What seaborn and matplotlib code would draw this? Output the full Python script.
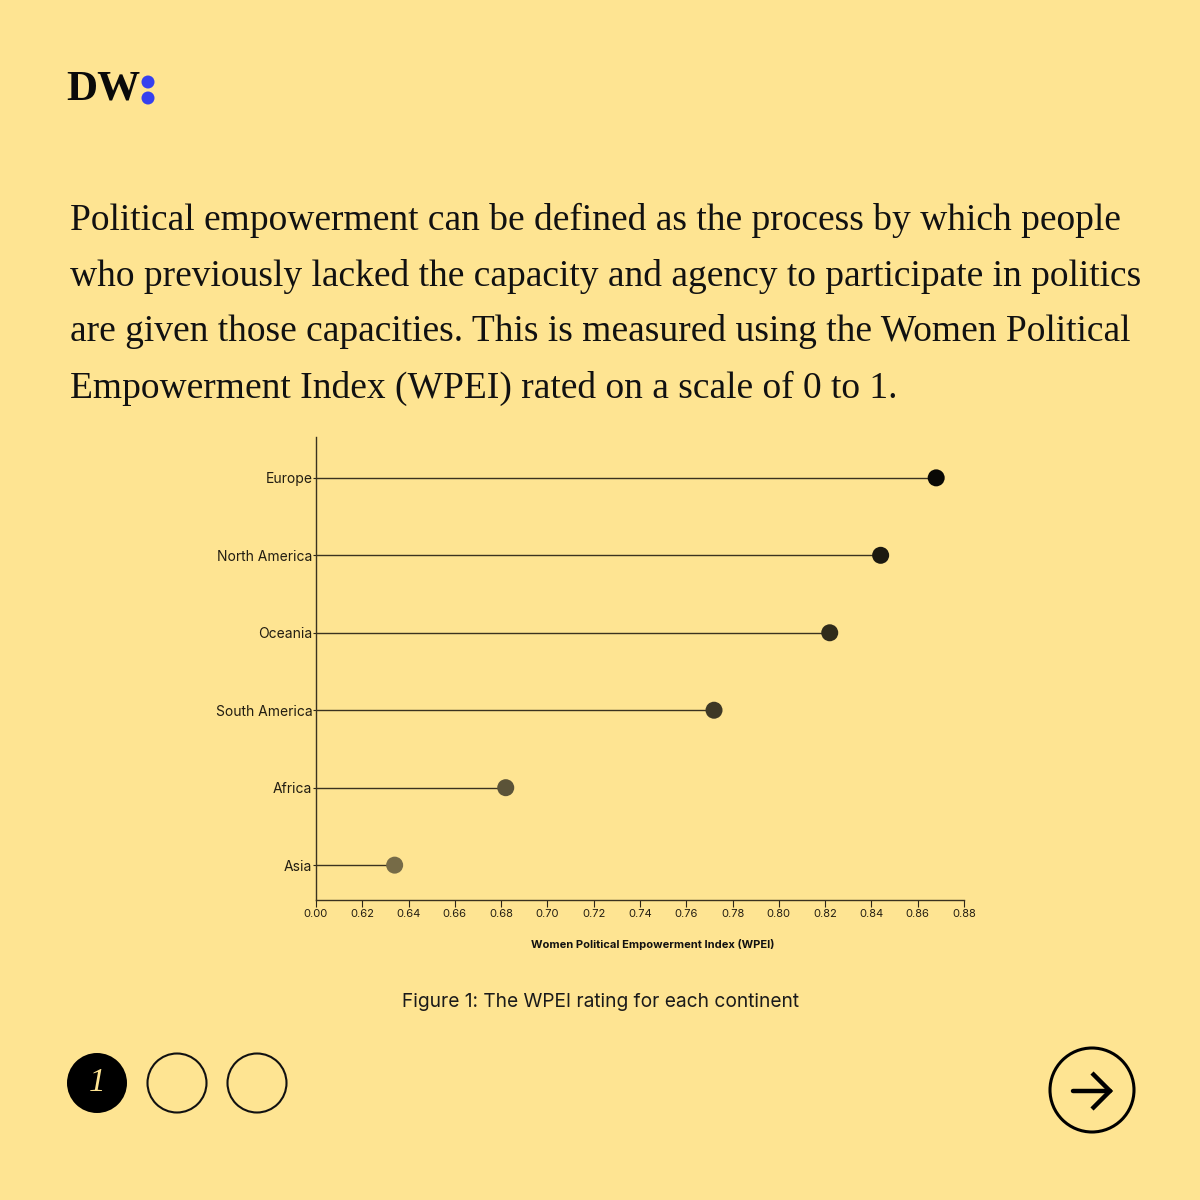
import matplotlib
matplotlib.use("Agg")
import matplotlib.pyplot as plt
import seaborn as sns
import pandas as pd
import numpy as np
from matplotlib.patches import Circle

# Data
continents = ["Europe", "North America", "Oceania", "South America", "Africa", "Asia"]
wpei = [0.868, 0.844, 0.822, 0.772, 0.682, 0.634]
point_colors = ["#0a0906", "#1c1910", "#302b1b", "#3e3825", "#5b5338", "#766b47"]
tick_values = [0.60, 0.62, 0.64, 0.66, 0.68, 0.70, 0.72, 0.74, 0.76, 0.78, 0.80, 0.82, 0.84, 0.86, 0.88]
tick_labels = ["0.00", "0.62", "0.64", "0.66", "0.68", "0.70", "0.72", "0.74", "0.76", "0.78",
               "0.80", "0.82", "0.84", "0.86", "0.88"]

bg = "#fee492"
ink = "#3a321f"

sns.set_theme(style="white")
plt.rcParams["font.family"] = ["Inter", "DejaVu Sans"]

df = pd.DataFrame({"continent": continents, "wpei": wpei})

fig = plt.figure(figsize=(12, 12), dpi=100, facecolor=bg)
ax = fig.add_axes([0.2633, 0.25, 0.54, 0.386])
ax.set_facecolor(bg)

# stems
ax.hlines(y=np.arange(len(continents)), xmin=tick_values[0], xmax=df["wpei"],
          color=ink, linewidth=1.0, zorder=1)
sns.scatterplot(data=df, x="wpei", y="continent", hue="continent",
                palette=point_colors, s=150, edgecolor="none", legend=False,
                ax=ax, zorder=2)

ax.set_xlim(tick_values[0], tick_values[-1])
ax.set_ylim(5.45, -0.53)
ax.set_xticks(tick_values)
ax.set_xticklabels(tick_labels)
ax.tick_params(axis="x", labelsize=8, colors="#2a2418", length=5, width=0.8,
               direction="out", bottom=True, pad=1.5)
ax.tick_params(axis="y", labelsize=10, colors="#2a2418", length=2, width=0.8,
               direction="out", left=True, pad=0.5)
for lab in ax.get_xticklabels() + ax.get_yticklabels():
    lab.set_color("#221d12")
ax.set_xlabel("Women Political Empowerment Index (WPEI)", fontsize=8,
              fontweight="bold", color="#111111")
ax.xaxis.set_label_coords(0.52, -0.084)
ax.set_ylabel("")
sns.despine(ax=ax, top=True, right=True)
for side in ["left", "bottom"]:
    ax.spines[side].set_color(ink)
    ax.spines[side].set_linewidth(1.0)

# heading text
heading = ["Political empowerment can be defined as the process by which people",
           "who previously lacked the capacity and agency to participate in politics",
           "are given those capacities. This is measured using the Women Political",
           "Empowerment Index (WPEI) rated on a scale of 0 to 1."]
for i, line in enumerate(heading):
    fig.text(70 / 1200, 1 - (220 + 56 * i) / 1200, line, family="Liberation Serif",
             fontsize=27, color="#111111", va="center", ha="left")

# caption
fig.text(0.5, 1 - 1002 / 1200, "Figure 1: The WPEI rating for each continent",
         fontsize=13.8, color="#1a1a1a", ha="center", va="center")

# DW logo
fig.text(66 / 1200, 1 - 90 / 1200, "DW", family="Liberation Serif", fontweight="bold",
         fontsize=31, color="#0a0a0a", va="center", ha="left")
for cy in [82, 98]:
    fig.patches.append(Circle((148 / 1200, 1 - cy / 1200), 6.5 / 1200, transform=fig.transFigure,
                              facecolor="#3540ee", edgecolor="none"))

# page dots
fig.patches.append(Circle((97 / 1200, 1 - 1083 / 1200), 30 / 1200, transform=fig.transFigure,
                          facecolor="#000000", edgecolor="none"))
fig.text(97 / 1200, 1 - 1083 / 1200, "1", family="Liberation Serif", style="italic",
         fontsize=24, color=bg, ha="center", va="center")
for cx in [177, 257]:
    fig.patches.append(Circle((cx / 1200, 1 - 1083 / 1200), 29.5 / 1200, transform=fig.transFigure,
                              facecolor="none", edgecolor="#111111", linewidth=1.5))

# arrow button
fig.patches.append(Circle((1092 / 1200, 1 - 1090 / 1200), 42 / 1200, transform=fig.transFigure,
                          facecolor="none", edgecolor="#000000", linewidth=2.2))
fig.lines.append(plt.Line2D([1073 / 1200, 1110 / 1200], [1 - 1091 / 1200, 1 - 1091 / 1200],
                            transform=fig.transFigure, color="#000000", linewidth=3.2))
fig.lines.append(plt.Line2D([1092 / 1200, 1110 / 1200, 1092 / 1200],
                            [1 - 1073 / 1200, 1 - 1091 / 1200, 1 - 1109 / 1200],
                            transform=fig.transFigure, color="#000000", linewidth=3.2,
                            solid_joinstyle="miter", solid_capstyle="butt"))

fig.savefig("out.png", dpi=100, facecolor=bg)
